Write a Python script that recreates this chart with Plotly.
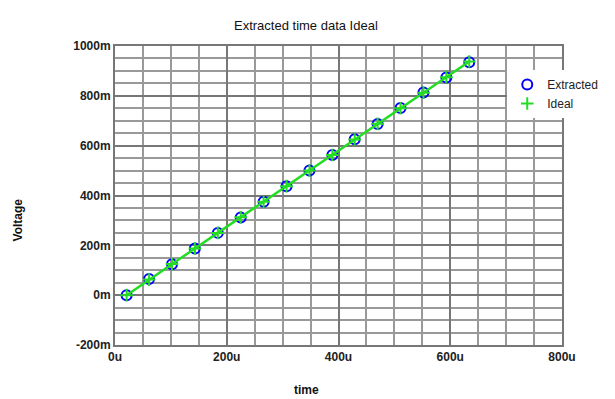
import plotly.graph_objects as go

# data (time in u, voltage in m)
time_u = [20.8, 61, 102, 143, 184, 225, 266, 307, 348, 389, 429, 470, 511, 552, 593, 634]
extracted_m = [0, 65, 124, 187, 250, 312, 375, 437, 500, 563, 626, 687, 751, 813, 874, 935]
ideal_m = [0, 62.5, 125, 187.5, 250, 312.5, 375, 437.5, 500, 562.5, 625, 687.5, 750, 812.5, 875, 937.5]
x_ticks = [0, 200, 400, 600, 800]
x_labels = ["0u", "200u", "400u", "600u", "800u"]
y_ticks = [-200, 0, 200, 400, 600, 800, 1000]
y_labels = ["-200m", "0m", "200m", "400m", "600m", "800m", "1000m"]

FONT = "Liberation Sans, Arial, sans-serif"
GREEN = "#22dd22"

fig = go.Figure()
fig.add_trace(go.Scatter(
    x=time_u, y=extracted_m, mode="markers", name="Extracted",
    marker=dict(symbol="circle-open", size=10, color="#0000ff", line=dict(width=2, color="#0000ff")),
))
fig.add_trace(go.Scatter(
    x=time_u, y=ideal_m, mode="lines", name="Ideal", showlegend=False,
    line=dict(color=GREEN, width=2.5),
))
fig.add_trace(go.Scatter(
    x=time_u, y=ideal_m, mode="markers", name="Ideal",
    marker=dict(symbol="cross-thin-open", size=9, color=GREEN, line=dict(width=2, color=GREEN)),
))

axis_common = dict(
    showline=True, mirror=True, linecolor="#777777", linewidth=2,
    showgrid=True, gridcolor="#777777", gridwidth=1.5,
    zeroline=False, ticks="",
    tickfont=dict(family=FONT, size=12, color="#222222", weight="bold"),
)
plot_l, plot_r, plot_t, plot_b = 115, 51, 46, 54
plot_w = 615 - plot_l - plot_r
plot_h = 399 - plot_t - plot_b


def px_to_paper(px, py):
    return (px - plot_l) / plot_w, (399 - plot_b - py) / plot_h


lx, ly = px_to_paper(509, 70)
tx, ty = px_to_paper(307, 25)
xx, xy = px_to_paper(307, 390)
vx, vy = px_to_paper(18, 220)

fig.update_layout(
    width=615, height=399,
    margin=dict(l=plot_l, r=plot_r, t=plot_t, b=plot_b),
    paper_bgcolor="white", plot_bgcolor="white",
    showlegend=True,
    legend=dict(x=lx, y=ly, xanchor="left", yanchor="top", bgcolor="white",
                font=dict(family=FONT, size=12, color="#222222"),
                itemwidth=30),
    xaxis=dict(range=[0, 800], tickvals=x_ticks, ticktext=x_labels,
               minor=dict(dtick=50, showgrid=True, gridcolor="#999999", gridwidth=1.5),
               **axis_common),
    yaxis=dict(range=[-200, 1000], tickvals=y_ticks, ticktext=y_labels,
               minor=dict(dtick=50, showgrid=True, gridcolor="#999999", gridwidth=1.5),
               **axis_common),
    annotations=[
        dict(text="Extracted time data Ideal", x=tx, y=ty, xref="paper", yref="paper",
             xanchor="center", yanchor="middle",
             showarrow=False, font=dict(family=FONT, size=13, color="#111111")),
        dict(text="<b>time</b>", x=xx, y=xy, xref="paper", yref="paper",
             xanchor="center", yanchor="middle",
             showarrow=False, font=dict(family=FONT, size=12, color="#111111")),
        dict(text="<b>Voltage</b>", x=vx, y=vy, xref="paper", yref="paper", textangle=-90,
             xanchor="center", yanchor="middle",
             showarrow=False, font=dict(family=FONT, size=12, color="#111111")),
    ],
)

fig.write_html("out.html")
